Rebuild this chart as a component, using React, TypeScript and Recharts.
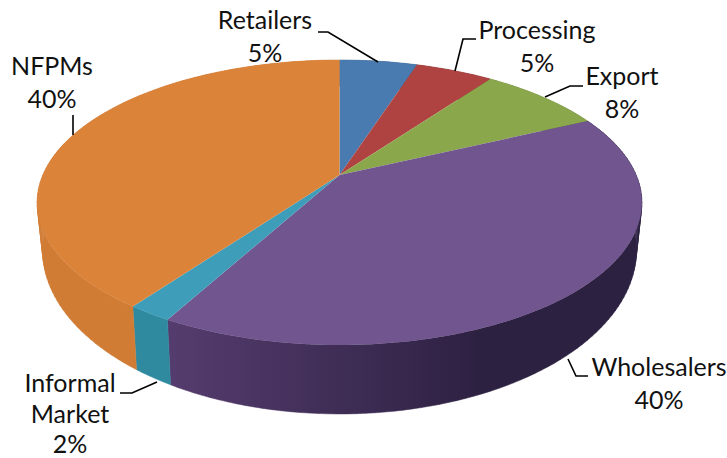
import { PieChart, Pie } from 'recharts';

const names = ['Retailers', 'Processing', 'Export', 'Wholesalers', 'Informal Market', 'NFPMs'];
const shares = [5, 5, 8, 40, 2, 40];
const topColors = ['#4a7bb0', '#ae4341', '#8aa84b', '#70558f', '#3e9db9', '#dc833a'];
const wallStops = [
  ['#3a6290', '#3a6290'],
  ['#8a3432', '#8a3432'],
  ['#6e863c', '#6e863c'],
  ['#553c6e', '#2d2142'],
  ['#2f8aa0', '#2f8198'],
  ['#d07c34', '#c4752f'],
];

const chartData = names.map((name, i) => ({ name, value: shares[i] }));

// label text lines and leader lines, one per slice
const labelLines = [['Retailers'], ['Processing'], ['Export'], ['Wholesalers'], ['Informal', 'Market'], ['NFPMs']];
const labelCenters = [
  [265, 29],
  [537, 39],
  [622, 85],
  [659, 376],
  [70, 392],
  [52, 75],
];
const lineGaps = [32.5, 32.5, 32.5, 32.5, 30.5, 32.5];
const leaders = [
  '318,32 328,32 378,62',
  '476,39 463,39 455,71',
  '583,86 570,86 545,97',
  '588,376 576,376 568,359',
  '120,393 132,393 157,382',
  '73,115 73,135',
];

// perspective of the tilted disc, unit circle to screen
const TILT = 0.193;
const TOP_Y_SCALE = 137.2 / 296.7;
const LOW_X_SCALE = 291.4 / 296.7;
const LOW_Y_SCALE = 157.9 / 296.7;
const LOW_Y_SHIFT = 43.3;

function project(cx: number, cy: number, r: number, angle: number, low: boolean) {
  const a = (angle * Math.PI) / 180;
  const u = Math.cos(a);
  const v = Math.sin(a);
  const w = 1 + TILT * v;
  if (low) {
    return [cx + (r * LOW_X_SCALE * u) / w, cy + LOW_Y_SHIFT - (r * LOW_Y_SCALE * v) / w];
  }
  return [cx + (r * u) / w, cy - (r * TOP_Y_SCALE * v) / w];
}

function stepAngles(from: number, to: number) {
  const steps = Math.max(4, Math.ceil(Math.abs(to - from) / 1.5));
  const angles: number[] = [];
  for (let i = 0; i <= steps; i++) angles.push(from + ((to - from) * i) / steps);
  return angles;
}

function TopSlice(props: any) {
  const { cx, cy, outerRadius, startAngle, endAngle, index } = props;
  const pts = stepAngles(startAngle, endAngle).map((a) => project(cx, cy, outerRadius, a, false).join(','));
  return <polygon points={[`${cx},${cy}`, ...pts].join(' ')} fill={topColors[index]} />;
}

// the wall is a strip of small quads, so the side silhouette stays filled
function WallSlice(props: any) {
  const { cx, cy, outerRadius, startAngle, endAngle, index } = props;
  const angles = stepAngles(startAngle, endAngle);
  let d = '';
  for (let i = 0; i < angles.length - 1; i++) {
    const a = project(cx, cy, outerRadius, angles[i], false);
    const b = project(cx, cy, outerRadius, angles[i + 1], false);
    const c = project(cx, cy, outerRadius, angles[i + 1], true);
    const e = project(cx, cy, outerRadius, angles[i], true);
    d += `M${a[0]},${a[1]}L${b[0]},${b[1]}L${c[0]},${c[1]}L${e[0]},${e[1]}Z`;
  }
  const id = `wall-${index}`;
  return (
    <g>
      <defs>
        <linearGradient id={id} gradientUnits="userSpaceOnUse" x1={170} y1={0} x2={480} y2={0}>
          <stop offset="0%" stopColor={wallStops[index][0]} />
          <stop offset="100%" stopColor={wallStops[index][1]} />
        </linearGradient>
      </defs>
      <path d={d} fill={`url(#${id})`} stroke={`url(#${id})`} strokeWidth={0.5} />
    </g>
  );
}

function SliceLabel({ index }: any) {
  const [x, y] = labelCenters[index];
  const lines = [...labelLines[index], `${shares[index]}%`];
  return (
    <g>
      <polyline points={leaders[index]} fill="none" stroke="#000" strokeWidth={1.6} />
      <text x={x} y={y} textAnchor="middle" fontFamily="Lato" fontSize={25} fill="#111">
        {lines.map((line, i) => (
          <tspan key={line} x={x} dy={i === 0 ? 0 : lineGaps[index]}>
            {line}
          </tspan>
        ))}
      </text>
    </g>
  );
}

export default function App() {
  return (
    <div style={{ position: 'absolute', left: 0, top: 0, width: 727, height: 458, background: '#fff', overflow: 'hidden' }}>
      <PieChart width={727} height={458} margin={{ top: 0, right: 0, bottom: 0, left: 0 }}>
        <Pie
          data={chartData}
          dataKey="value"
          cx={339.5}
          cy={175}
          outerRadius={296.7}
          startAngle={90}
          endAngle={-270}
          stroke="none"
          shape={WallSlice}
          isAnimationActive={false}
        />
        <Pie
          data={chartData}
          dataKey="value"
          cx={339.5}
          cy={175}
          outerRadius={296.7}
          startAngle={90}
          endAngle={-270}
          stroke="none"
          shape={TopSlice}
          label={SliceLabel}
          labelLine={false}
          isAnimationActive={false}
        />
      </PieChart>
    </div>
  );
}
